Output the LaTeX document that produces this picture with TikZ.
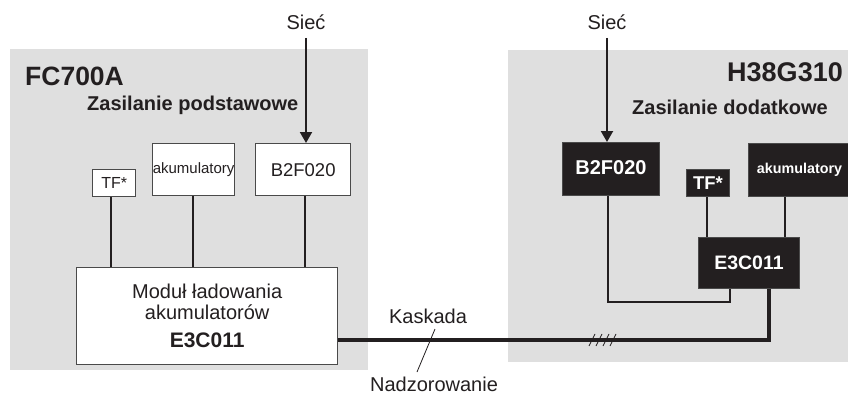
\documentclass[tikz,border=0pt]{standalone}
\usepackage{fontspec}
\setmainfont{Liberation Sans}
\usetikzlibrary{arrows.meta}
\definecolor{ink}{HTML}{231F20}
\definecolor{panel}{HTML}{DFDFDF}
\definecolor{boxline}{HTML}{4A4A4A}
\tikzset{
  fs/.style={font=\fontsize{#1}{#1}\selectfont},
  panelbox/.style={fill=panel, draw=none},
  whitebox/.style={draw=boxline, line width=1.3pt, fill=white, text=ink, inner sep=0pt, anchor=north west},
  blackbox/.style={draw=boxline, line width=1pt, fill=ink, text=white, inner sep=0pt, anchor=north west},
  lbl/.style={text=ink, inner sep=0pt},
  wire/.style={draw=ink, line width=2pt},
  thinwire/.style={draw=ink, line width=1.5pt},
  bus/.style={draw=ink, line width=4pt},
  feed/.style={draw=ink, line width=2pt, -{Triangle[length=11pt,width=12pt]}},
  hatch/.style={draw=ink, line width=0.8pt},
}
\begin{document}
\begin{tikzpicture}[x=1pt, y=-1pt]
  \useasboundingbox (0,0) rectangle (848,396);

  % cabinet backgrounds
  \fill[panel] (10,49) rectangle (368,370);
  \fill[panel] (508,50) rectangle (848,362);

  % ---- left cabinet: FC700A ----
  \node[lbl, anchor=west, font=\fontsize{26.5}{29}\selectfont\bfseries] (titleL) at (25,76) {FC700A};
  \node[lbl, anchor=west, font=\fontsize{20}{22}\selectfont\bfseries] (subL) at (87,105) {Zasilanie podstawowe};

  \node[whitebox, minimum width=43pt, minimum height=27pt, fs=16] (tfL) at (92,169) {TF*};
  \node[whitebox, minimum width=82pt, minimum height=52pt, fs=15] (akuL) at (152,143) {\raisebox{1.5pt}{akumulatory}};
  \node[whitebox, minimum width=95pt, minimum height=52pt, fs=18.5] (b2L) at (255,143) {B2F020};
  \node[whitebox, minimum width=261pt, minimum height=97pt, align=center, fs=20] (modL) at (76,267)
    {Moduł ładowania\\[1pt]akumulatorów\\[8pt]{\bfseries\fontsize{21}{21}\selectfont E3C011}};

  \node[lbl, fs=20] (sietL) at (306,22) {Sieć};
  \draw[feed] (sietL.south |- 0,38) -- (sietL.south |- b2L.north);

  \draw[wire] (tfL.south -| 111,0) -- (modL.north -| 111,0);
  \draw[wire] (akuL.south -| 193,0) -- (modL.north -| 193,0);
  \draw[wire] (b2L.south -| 305,0) -- (modL.north -| 305,0);

  % ---- right cabinet: H38G310 ----
  \node[lbl, anchor=east, font=\fontsize{27}{30}\selectfont\bfseries] (titleR) at (843,72) {H38G310};
  \node[lbl, anchor=west, font=\fontsize{20}{22}\selectfont\bfseries] (subR) at (632,107) {Zasilanie dodatkowe};

  \node[blackbox, minimum width=97pt, minimum height=53pt, font=\fontsize{20}{22}\selectfont\bfseries] (b2R) at (562,142) {\raisebox{2pt}{B2F020}};
  \node[blackbox, minimum width=43pt, minimum height=27pt, font=\fontsize{18.5}{20}\selectfont\bfseries] (tfR) at (686,169) {TF*};
  \node[blackbox, minimum width=102pt, minimum height=53pt, font=\fontsize{14.3}{16}\selectfont\bfseries] (akuR) at (748,143) {\raisebox{1pt}{akumulatory}};
  \node[blackbox, minimum width=101pt, minimum height=51pt, font=\fontsize{19.5}{21}\selectfont\bfseries] (e3R) at (698,237) {E3C011};

  \node[lbl, fs=20] (sietR) at (607,22) {Sieć};
  \draw[feed] (sietR.south |- 0,38) -- (sietR.south |- b2R.north);

  \draw[thinwire] (tfR.south -| 707,0) -- (e3R.north -| 707,0);
  \draw[thinwire] (akuR.south -| 785,0) -- (e3R.north -| 785,0);
  \draw[thinwire] (b2R.south -| 608,0) -- (608,302) -- (730,302) -- (e3R.south -| 730,0);

  % cascade bus between the two cabinets
  \coordinate (busL) at (337,340);
  \draw[bus] (modL.east |- busL) -- (769,340) -- (e3R.south -| 769,0);
  \foreach \hx in {589,596,603,610}
    \draw[hatch] (\hx,346) -- (\hx+6,334);

  \node[lbl, fs=20] (kask) at (428,316) {Kaskada};
  \node[lbl, fs=20] (nadz) at (434,384) {Nadzorowanie};
  \draw[line width=0.8pt, ink] (435,329) -- (417,372);
\end{tikzpicture}
\end{document}
